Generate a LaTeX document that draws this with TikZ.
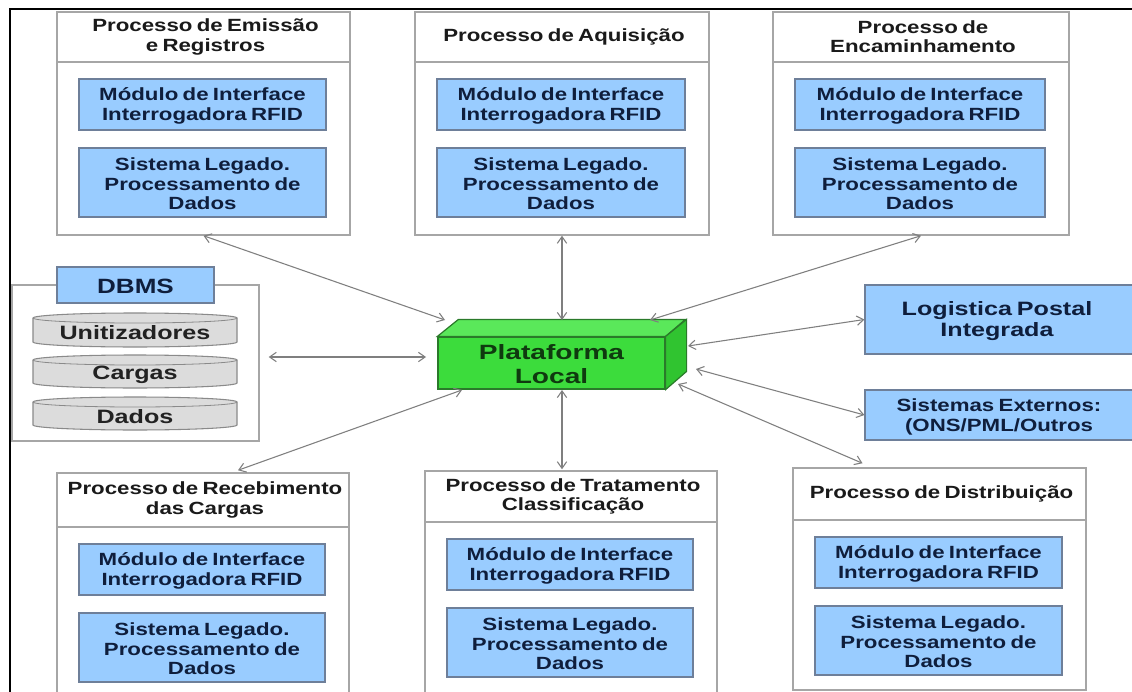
\documentclass[tikz,border=0pt]{standalone}
\usepackage{fontspec}
\setmainfont{Liberation Sans}[FakeStretch=1.26, WordSpace=0.7]
\newfontfamily\widefont{Liberation Sans}[FakeStretch=1.3, WordSpace=0.7]
\newfontfamily\platfont{Liberation Sans}[FakeStretch=1.36, WordSpace=0.7]
\usetikzlibrary{arrows.meta,fit}

\definecolor{boxline}{HTML}{A6A6A6}
\definecolor{bluefill}{HTML}{99CCFF}
\definecolor{blueline}{HTML}{6E7F99}
\definecolor{bluetext}{HTML}{0F1E3C}
\definecolor{titletext}{HTML}{1A1A1A}
\definecolor{arrowcol}{HTML}{7F7F7F}
\definecolor{platfront}{HTML}{3CDC3C}
\definecolor{plattop}{HTML}{5AE85A}
\definecolor{platside}{HTML}{30C430}
\definecolor{platline}{HTML}{2A7A2A}
\definecolor{plattext}{HTML}{0F3A0F}
\definecolor{cylfill}{HTML}{DCDCDC}
\definecolor{cylline}{HTML}{8A8A8A}
\definecolor{cyltext}{HTML}{222222}

\tikzset{
  procbox/.style={draw=boxline, line width=1.1pt, fill=white, inner sep=0pt},
  bluebox/.style={draw=blueline, line width=0.9pt, fill=bluefill, inner sep=0pt},
  titletxt/.style={font=\bfseries\fontsize{13.25}{14.5}\selectfont, text=titletext, align=center, inner sep=0pt},
  bluetxt/.style={font=\bfseries\fontsize{13.25}{14.75}\selectfont, text=bluetext, align=center, inner sep=0pt},
  cyltxt/.style={font=\widefont\bfseries\fontsize{14.5}{16}\selectfont, text=cyltext, inner sep=0pt},
  link/.style={draw=arrowcol, line width=0.8pt,
    {Straight Barb[length=5pt,width=7pt]}-{Straight Barb[length=5pt,width=7pt]}}
}

% one process block: name, left, top, right, bottom, divider y, title
\newcommand{\procunit}[7]{
  \node[procbox, fit={(#2,#3) (#4,#5)}] (#1) {};
  \draw[boxline, line width=1.1pt] (#2,#6) -- (#4,#6);
  \node[titletxt] (#1-t) at ({(#2+#4)/2+2},{(#3+#6)/2}) {#7};
  \node[bluebox, fit={({#2+22},{#6+17}) ({#4-24},{#6+68})}] (#1-m) {};
  \node[bluetxt] (#1-mt) at ([yshift=-1pt]#1-m.center) {Módulo de Interface\\Interrogadora RFID};
  \node[bluebox, fit={({#2+22},{#6+86}) ({#4-24},{#6+155})}] (#1-s) {};
  \node[bluetxt] (#1-st) at ([yshift=-1pt]#1-s.center) {Sistema Legado.\\Processamento de\\Dados};
}

% one database cylinder: name, top y, bottom y, label
\newcommand{\dbcyl}[4]{
  \draw[cylline, fill=cylfill, line width=0.8pt]
    (33,{#2+5}) -- (33,{#3-5}) arc(180:0:102 and 5) -- (237,{#2+5}) arc(0:-180:102 and 5) -- cycle;
  \draw[cylline, line width=0.6pt] (33,{#2+5}) arc(180:0:102 and 5);
  \node[cyltxt] (#1) at (135,{(#2+#3)/2+3}) {#4};
}

\begin{document}
\begin{tikzpicture}[x=0.75pt, y=-0.75pt]
\useasboundingbox (0,0) rectangle (1132,692);
\clip (0,0) rectangle (1132,692);
\fill[white] (0,0) rectangle (1132,692);

% frame lines
\draw[black, line width=1.6pt] (10,700) -- (10,9) -- (1140,9);

% process blocks
\procunit{emi}{57}{12}{350}{235}{62}{Processo de Emissão\\e Registros}
\procunit{aqu}{415}{12}{709}{235}{62}{Processo de Aquisição}
\procunit{enc}{773}{12}{1069}{235}{62}{Processo de\\Encaminhamento}
\procunit{rec}{57}{473}{349}{700}{527}{Processo de Recebimento\\das Cargas}
\procunit{tra}{425}{471}{717}{700}{522}{Processo de Tratamento\\Classificação}
\procunit{dis}{793}{468}{1086}{690}{520}{Processo de Distribuição}

% database group
\node[draw=boxline, line width=1.1pt, fill=white, inner sep=0pt, fit={(12,285) (259,441)}] (dbms) {};
\node[bluebox, fit={(57,267) (214,303)}] (dbmslbl) {};
\node[font=\bfseries\fontsize{15.5}{17}\selectfont, text=bluetext, inner sep=0pt] (dbmstxt) at ([yshift=-1pt]dbmslbl.center) {DBMS};
\dbcyl{cyl1}{313}{347}{Unitizadores}
\dbcyl{cyl2}{355}{388}{Cargas}
\dbcyl{cyl3}{397}{430}{Dados}

% central platform (box drawn in perspective)
\node[fill=platfront, draw=platline, line width=0.9pt, inner sep=0pt, fit={(438,337) (665,389)}] (plat) {};
\draw[fill=plattop, draw=platline, line width=0.9pt] (plat.north west) -- ++(21,-17) -- ++(227,0) -- (plat.north east) -- cycle;
\draw[fill=platside, draw=platline, line width=0.9pt] (plat.north east) -- ++(21,-17) -- ++(0,52) -- (plat.south east) -- cycle;
\node[font=\platfont\bfseries\fontsize{15.5}{18}\selectfont, text=plattext, align=center, inner sep=0pt] (plattxt) at ([yshift=-1pt]plat.center) {Plataforma\\Local};

% external systems
\node[bluebox, fit={(865,285) (1140,354)}] (log) {};
\node[font=\widefont\bfseries\fontsize{14.5}{16}\selectfont, text=bluetext, align=center, inner sep=0pt] (logtxt) at (997,321) {Logistica Postal\\Integrada};
\node[bluebox, fit={(865,390) (1140,440)}] (ext) {};
\node[bluetxt, font=\bfseries\fontsize{13.25}{15}\selectfont] (exttxt) at (999,417) {Sistemas Externos:\\(ONS/PML/Outros};

% connection points on the platform
\coordinate (p-emi) at (445,320);
\coordinate (p-aqu) at (562,320);
\coordinate (p-enc) at (650,320);
\coordinate (p-dbms) at (426,357);
\coordinate (p-rec) at (462,390);
\coordinate (p-tra) at (562,390);
\coordinate (p-dis) at (678,384);
\coordinate (p-ext) at (696,369);
\coordinate (p-log) at (688,346);

% connectors
\draw[link] (emi.south) -- (p-emi);
\draw[link] (aqu.south) -- (p-aqu);
\draw[link] (enc.south) -- (p-enc);
\draw[link, shorten <=6.75pt] (dbms.east |- p-dbms) -- (p-dbms);
\draw[link] ([shift={(35,-2)}]rec.north) -- (p-rec);
\draw[link] ([shift={(-9,-1)}]tra.north) -- (p-tra);
\draw[link] ([shift={(-77,-4)}]dis.north) -- (p-dis);
\draw[link] (ext.west) -- (p-ext);
\draw[link] (log.west) -- (p-log);
\end{tikzpicture}
\end{document}
